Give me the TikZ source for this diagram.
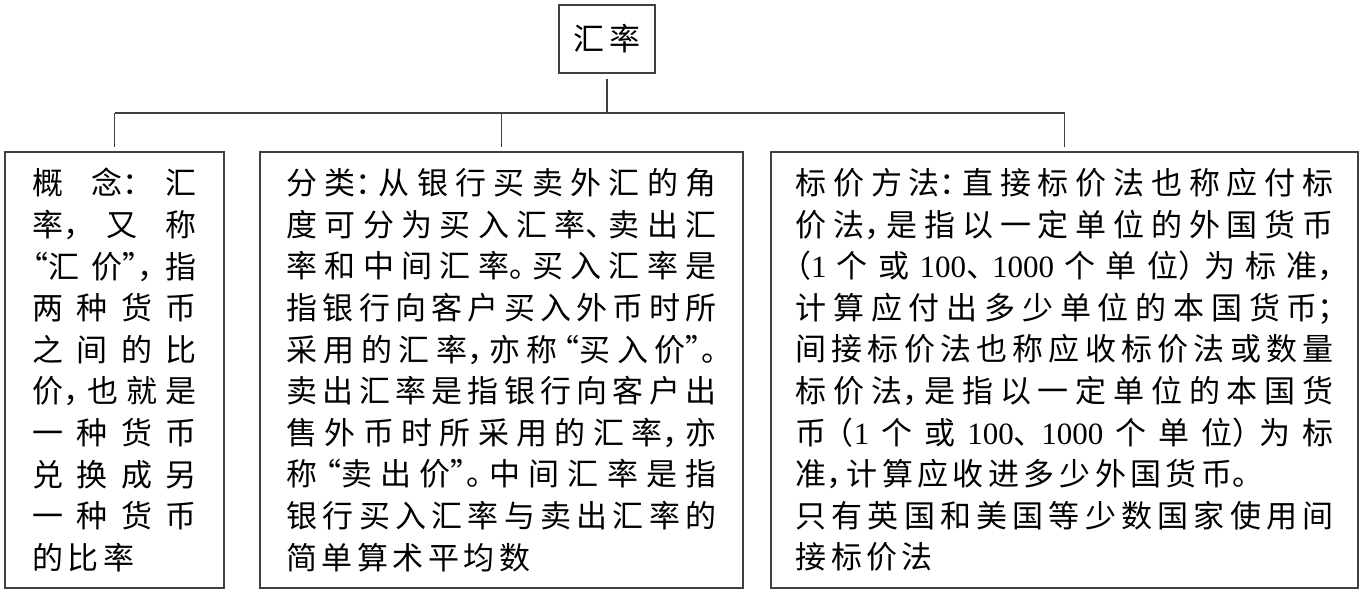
\documentclass[tikz,border=0pt]{standalone}
\usepackage{fontspec}
\newfontfamily\cjk{Noto Sans CJK SC}
\newfontfamily\lat{Liberation Serif}
\newdimen\gapw \gapw=4.5pt
\newdimen\linew
\makeatletter
\let\spend\relax
\def\sp@endm{\spend}
\def\sploop#1{\def\sp@arg{#1}\ifx\sp@arg\sp@endm\else\hskip\gapw plus 1fil\relax#1\expandafter\sploop\fi}
\def\spfirst#1{#1\sploop}
\newcommand\jl[1]{\hbox to \linew{\spfirst#1\spend}}
\newcommand\nl[1]{\hbox{\spfirst#1\spend}}
\newcommand\pL[1]{\makebox[.5em][l]{#1}}
\newcommand\pR[1]{\makebox[.5em][r]{#1}}
\makeatother
\newcommand\para[1]{\vbox{\baselineskip=41.6pt\lineskiplimit=-100pt\lineskip=0pt #1}}
\begin{document}
\begin{tikzpicture}[x=1pt,y=-1pt,
  box/.style={draw=black!75, line width=1.3pt, inner sep=0pt, fill=white,
    font=\cjk\fontsize{31pt}{41.6pt}\selectfont},
  conn/.style={draw=black!75, line width=1.3pt}]
\useasboundingbox (0,0) rectangle (1365,594);
\node[box, minimum width=96pt, minimum height=68pt] (top) at (607,39) {\nl{汇率}};
\node[box, minimum width=219pt, minimum height=436pt] (c1) at (114.5,370) {\linew=164pt\para{%
\jl{概{念\pL{：}}汇}
\jl{{率\pL{，}}又称}
\jl{{\pR{“}汇}{价\pL{”}\pL{，}}指}
\jl{两种货币}
\jl{之间的比}
\jl{{价\pL{，}}也就是}
\jl{一种货币}
\jl{兑换成另}
\jl{一种货币}
\nl{的比率}}};
\node[box, minimum width=483pt, minimum height=436pt] (c2) at (501.5,370) {\linew=430pt\para{%
\jl{分{类\pL{：}}从银行买卖外汇的角}
\jl{度可分为买入汇{率\pL{、}}卖出汇}
\jl{率和中间汇{率\pL{。}}买入汇率是}
\jl{指银行向客户买入外币时所}
\jl{采用的汇{率\pL{，}}亦称{\pR{“}买}入{价\pL{”}\pL{。}}}
\jl{卖出汇率是指银行向客户出}
\jl{售外币时所采用的汇{率\pL{，}}亦}
\jl{称{\pR{“}卖}出{价\pL{”}\pL{。}}中间汇率是指}
\jl{银行买入汇率与卖出汇率的}
\nl{简单算术平均数}}};
\node[box, minimum width=587pt, minimum height=436pt] (c3) at (1064.5,370) {\linew=538pt\para{%
\jl{标价方{法\pL{：}}直接标价法也称应付标}
\jl{价{法\pL{，}}是指以一定单位的外国货币}
\jl{{\pR{（}{\lat 1}}个或{{\lat 100}\pL{、}}{{\lat 1000}}个单{位\pL{）}}为标{准\pL{，}}}
\jl{计算应付出多少单位的本国货{币\pL{；}}}
\jl{间接标价法也称应收标价法或数量}
\jl{标价{法\pL{，}}是指以一定单位的本国货}
\jl{币{\pR{（}{\lat 1}}个或{{\lat 100}\pL{、}}{{\lat 1000}}个单{位\pL{）}}为标}
\nl{{准\pL{，}}计算应收进多少外国货{币\pL{。}}}
\jl{只有英国和美国等少数国家使用间}
\nl{接标价法}}};
\coordinate (bus) at (607,113);
\draw[conn] ([yshift=-5pt]top.south) -- (top.south |- bus);
\draw[conn] (c1.north |- bus) -- (c3.north |- bus);
\draw[conn] (c1.north |- bus) -- ([yshift=4pt]c1.north);
\draw[conn] (c2.north |- bus) -- ([yshift=4pt]c2.north);
\draw[conn] (c3.north |- bus) -- ([yshift=4pt]c3.north);
\end{tikzpicture}
\end{document}
